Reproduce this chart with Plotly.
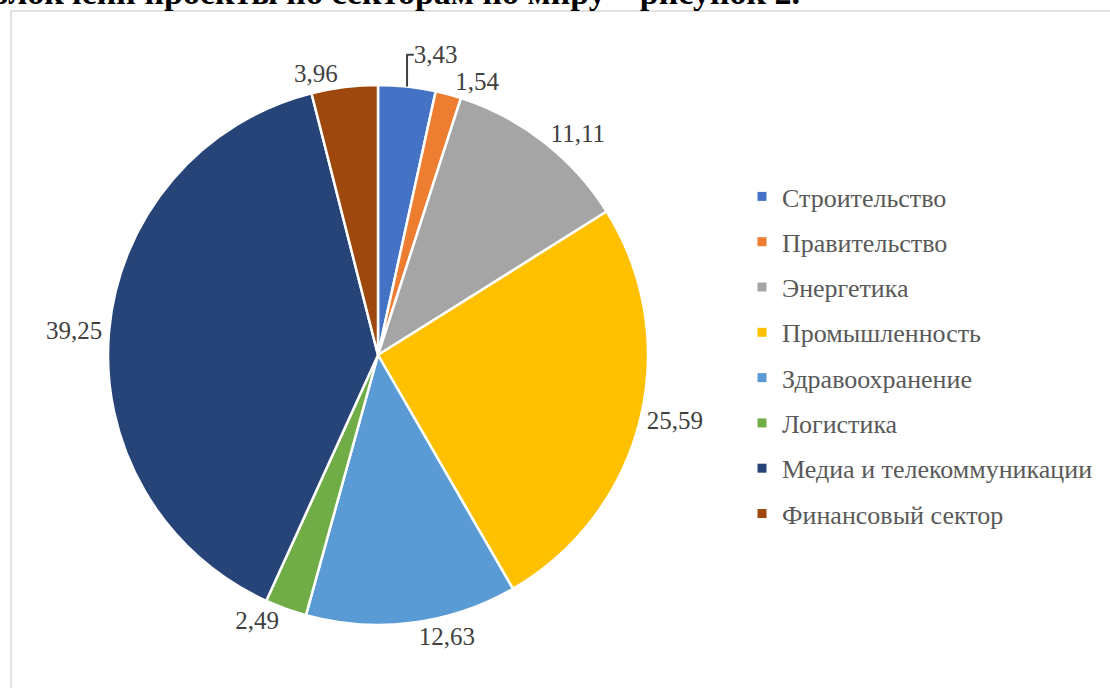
import plotly.graph_objects as go

categories = ["Строительство", "Правительство", "Энергетика", "Промышленность",
              "Здравоохранение", "Логистика", "Медиа и телекоммуникации", "Финансовый сектор"]
values = [3.43, 1.54, 11.11, 25.59, 12.63, 2.49, 39.25, 3.96]
colors = ["#4472C4", "#ED7D31", "#A5A5A5", "#FFC000", "#5B9BD5", "#70AD47", "#264478", "#9E480E"]

W, H = 1110, 688
SERIF = "Liberation Serif"

fig = go.Figure()
fig.add_trace(go.Pie(
    labels=categories, values=values, sort=False, direction="clockwise", rotation=0,
    marker=dict(colors=colors, line=dict(color="white", width=2.5)),
    textposition="outside", texttemplate="%{value:.2f}",
    textfont=dict(family=SERIF, size=25, color="#404040"),
    showlegend=False, hoverinfo="label+value",
    domain=dict(x=[108 / W, 648 / W], y=[(H - 625) / H, (H - 85) / H]),
))

# legend entries
for i, (c, col) in enumerate(zip(categories, colors)):
    fig.add_trace(go.Scatter(x=[None], y=[None], mode="markers", name=c,
                             marker=dict(symbol="square", size=9, color=col),
                             legendgroup=f"g{i}", showlegend=True))

fig.add_shape(type="rect", xref="paper", yref="paper",
              x0=11 / W, x1=1120 / W, y0=-10 / H, y1=(H - 11) / H,
              line=dict(color="#D9D9D9", width=1.5), fillcolor="rgba(0,0,0,0)")

fig.add_annotation(xref="paper", yref="paper", x=802 / W, y=(H - 13) / H,
                   xanchor="right", yanchor="bottom", showarrow=False,
                   text="<b>блокчейн проекты по секторам по миру – рисунок 2.</b>",
                   font=dict(family=SERIF, size=34, color="black"))

fig.update_layout(
    width=W, height=H, margin=dict(l=0, r=0, t=0, b=0),
    paper_bgcolor="white", plot_bgcolor="white",
    separators=", ",
    xaxis=dict(visible=False), yaxis=dict(visible=False),
    legend=dict(x=742 / W, y=1 - 173 / H, xanchor="left", yanchor="top",
                font=dict(family=SERIF, size=26, color="#595959"),
                tracegroupgap=8.5, bgcolor="rgba(0,0,0,0)", itemclick=False),
)

fig.write_html("out.html")
